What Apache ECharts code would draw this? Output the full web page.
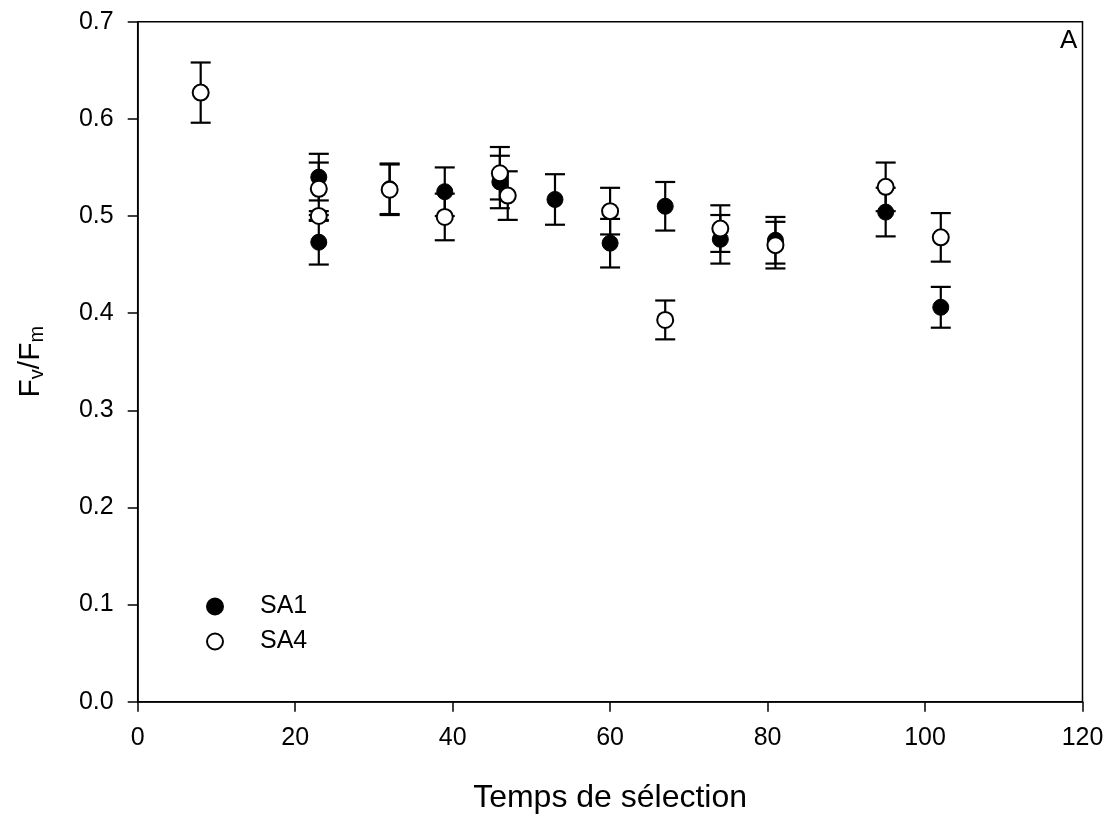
<!DOCTYPE html>
<html>
<head>
<meta charset="utf-8">
<script src="https://cdn.jsdelivr.net/npm/echarts@6/dist/echarts.min.js"></script>
<style>html,body{margin:0;padding:0;background:#fff;}#c{width:1112px;height:816px;}</style>
</head>
<body>
<div id="c"></div>
<script>
// Data
const sa1X   = [23, 23, 32, 39, 46, 53, 60, 67, 74, 81, 95, 102];
const sa1Y   = [0.540, 0.473, 0.528, 0.525, 0.535, 0.517, 0.472, 0.510, 0.476, 0.475, 0.504, 0.406];
const sa1Err = [0.024, 0.023, 0.026, 0.025, 0.027, 0.026, 0.025, 0.025, 0.025, 0.024, 0.025, 0.021];

const sa4X   = [8, 23, 23, 32, 39, 46, 47, 60, 67, 74, 81, 95, 102];
const sa4Y   = [0.627, 0.528, 0.500, 0.527, 0.499, 0.544, 0.521, 0.505, 0.393, 0.487, 0.470, 0.530, 0.478];
const sa4Err = [0.031, 0.027, 0.005, 0.026, 0.024, 0.027, 0.025, 0.024, 0.020, 0.024, 0.024, 0.025, 0.025];

const xTicks = [0, 20, 40, 60, 80, 100, 120];
const yTicks = [0.0, 0.1, 0.2, 0.3, 0.4, 0.5, 0.6, 0.7];

const FONT = 'Liberation Sans, Arial, sans-serif';

function pts(xs, ys) { return xs.map((x, i) => [x, ys[i]]); }
function errs(xs, ys, es) { return xs.map((x, i) => [x, ys[i], es[i]]); }

function errRender(params, api) {
  const x = api.value(0), y = api.value(1), e = api.value(2);
  const top = api.coord([x, y + e]);
  const bot = api.coord([x, y - e]);
  const hw = 10;
  const st = { stroke: '#000', lineWidth: 2.2 };
  return {
    type: 'group',
    children: [
      { type: 'line', shape: { x1: top[0], y1: top[1], x2: bot[0], y2: bot[1] }, style: st },
      { type: 'line', shape: { x1: top[0] - hw, y1: top[1], x2: top[0] + hw, y2: top[1] }, style: st },
      { type: 'line', shape: { x1: bot[0] - hw, y1: bot[1], x2: bot[0] + hw, y2: bot[1] }, style: st }
    ]
  };
}

const chart = echarts.init(document.getElementById('c'), null, { renderer: 'canvas' });
chart.setOption({
  animation: false,
  backgroundColor: '#fff',
  textStyle: { fontFamily: FONT, color: '#000' },
  grid: { left: 137.7, right: 29.5, top: 21.7, bottom: 114.3, containLabel: false, outerBoundsMode: 'none',
          show: true, borderColor: '#000', borderWidth: 1.5 },
  legend: {
    left: 201, top: 589, orient: 'vertical', itemWidth: 16, itemHeight: 16, itemGap: 10,
    textStyle: { fontFamily: FONT, fontSize: 25, color: '#000', padding: [0, 0, 0, 32] },
    data: ['SA1', 'SA4']
  },
  xAxis: {
    type: 'value', min: xTicks[0], max: xTicks[xTicks.length - 1], interval: 20,
    splitLine: { show: false },
    axisLine: { lineStyle: { color: '#000', width: 1.5 } },
    axisTick: { show: true, length: 10, lineStyle: { color: '#000', width: 1.5 } },
    axisLabel: { fontFamily: FONT, fontSize: 25, color: '#000', margin: 24 },
    name: 'Temps de sélection', nameLocation: 'middle', nameGap: 80,
    nameTextStyle: { fontFamily: FONT, fontSize: 32, color: '#000' }
  },
  yAxis: {
    type: 'value', min: yTicks[0], max: yTicks[yTicks.length - 1], interval: 0.1,
    splitLine: { show: false },
    axisLine: { lineStyle: { color: '#000', width: 1.5 } },
    axisTick: { show: true, length: 10, lineStyle: { color: '#000', width: 1.5 } },
    axisLabel: { fontFamily: FONT, fontSize: 25, color: '#000', margin: 24, formatter: v => v.toFixed(1) },
    name: 'F{s|v}/F{s|m}', nameLocation: 'middle', nameGap: 90, nameRotate: 90,
    nameTextStyle: {
      fontFamily: FONT, fontSize: 30, color: '#000',
      rich: { s: { fontFamily: FONT, fontSize: 20, color: '#000', padding: [14, 0, 0, 0], verticalAlign: 'bottom' } }
    }
  },
  graphic: [
    { type: 'text', left: 1060, top: 28, style: { text: 'A', font: '26px ' + FONT, fill: '#000' } }
  ],
  series: [
    { type: 'custom', name: 'errSA1', renderItem: errRender, data: errs(sa1X, sa1Y, sa1Err), z: 1, encode: { x: 0, y: 1 }, silent: true },
    { type: 'custom', name: 'errSA4', renderItem: errRender, data: errs(sa4X, sa4Y, sa4Err), z: 1, encode: { x: 0, y: 1 }, silent: true },
    { type: 'scatter', name: 'SA1', data: pts(sa1X, sa1Y), symbol: 'circle', symbolSize: 16, z: 3,
      itemStyle: { color: '#000', borderColor: '#000', borderWidth: 1, opacity: 1 } },
    { type: 'scatter', name: 'SA4', data: pts(sa4X, sa4Y), symbol: 'circle', symbolSize: 16, z: 4,
      itemStyle: { color: '#fff', borderColor: '#000', borderWidth: 2, opacity: 1 } }
  ]
});
</script>
</body>
</html>
